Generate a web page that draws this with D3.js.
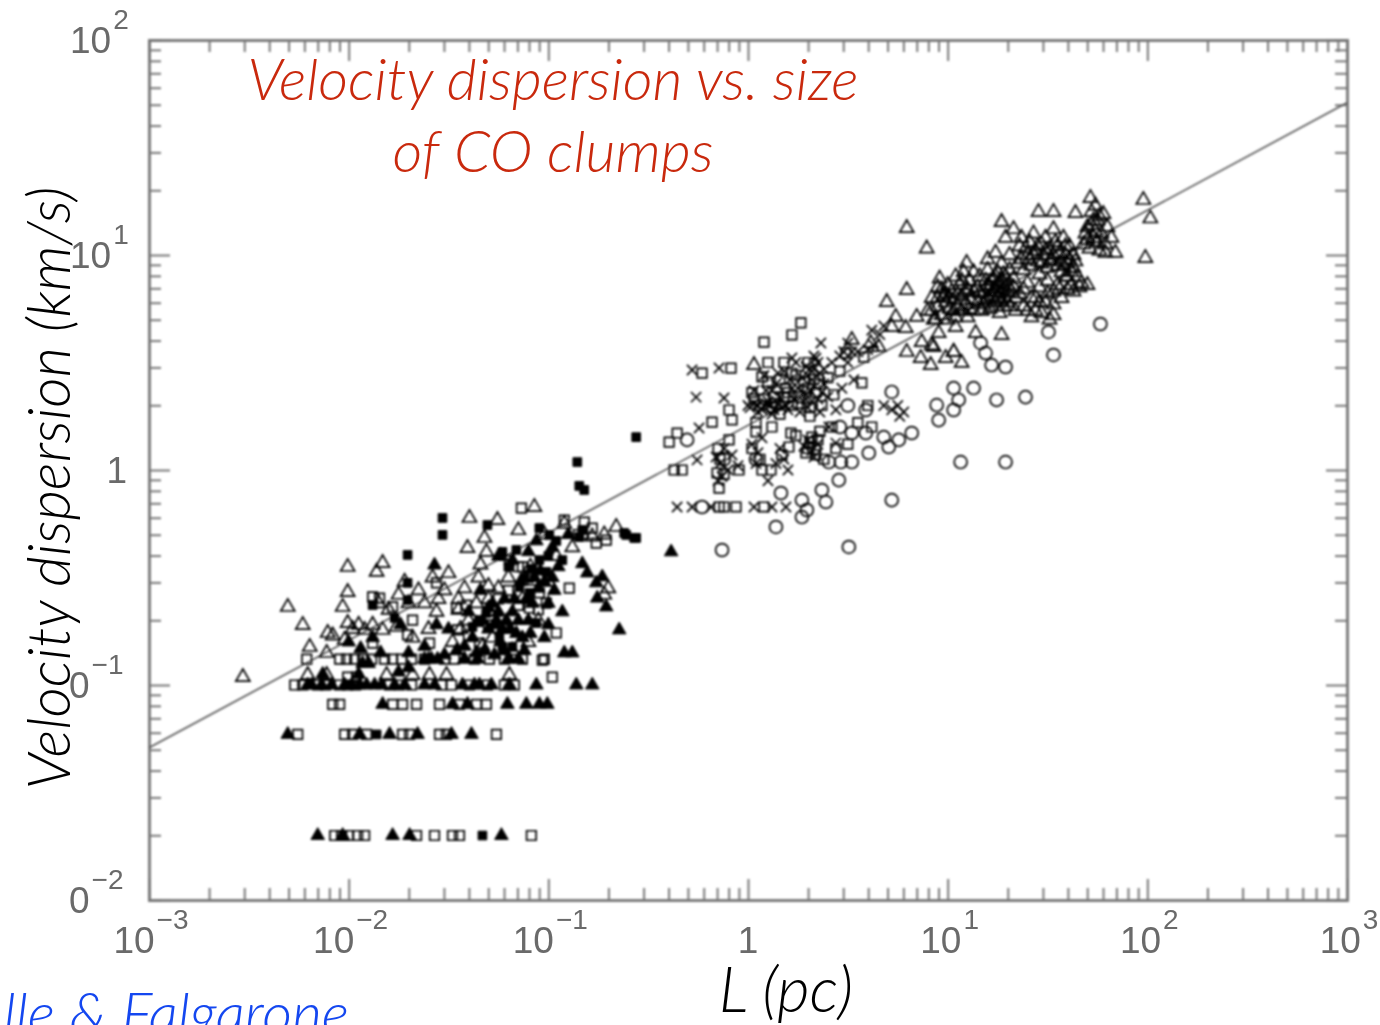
<!DOCTYPE html>
<html>
<head>
<meta charset="utf-8">
<script src="https://d3js.org/d3.v7.min.js"></script>
<style>
  html, body { margin: 0; padding: 0; background: #fff; overflow: hidden; }
  svg { display: block; }
  .tick-label { font-family: "Liberation Sans", sans-serif; fill: #6a6a6a; }
  .gill { font-family: Lato, "Open Sans", sans-serif; font-style: italic; font-weight: 300; }
</style>
</head>
<body>
<svg></svg>
<script>
// All points are [log10 L (pc), log10 velocity dispersion (km/s)]
var openTriangles = [
  [.795,1.125],[.895,1.03],[1.98,1.256],[2.015,1.17],[1.99,.986],[1.455,1.2],[1.53,1.2],[1.64,1.195],[1.715,1.265],[1.27,1.153],[1.095,.963],[.695,.781],[.795,.837],[.74,.712],[1.27,.628],
  [.90,.74],[.92,.80],[.93,.70],[.95,.85],[.95,.76],[.96,.89],[.97,.72],[.98,.81],[.99,.78],[1.0,.86],[1.0,.70],[1.01,.75],[1.02,.83],[1.03,.79],[1.04,.90],[1.04,.71],[1.05,.76],[1.06,.86],[1.07,.81],[1.07,.74],[1.08,.92],[1.09,.77],[1.1,.84],[1.1,.71],[1.11,.88],[1.12,.79],[1.13,.74],[1.13,.92],
  [1.15,.85],[1.15,.78],[1.16,.90],[1.17,.74],[1.18,.83],[1.19,.88],[1.19,.79],[1.20,.93],[1.21,.85],[1.21,.75],[1.22,.81],[1.23,.89],[1.23,.84],[1.24,.78],[1.25,.92],[1.25,.86],[1.26,.82],[1.26,.73],[1.27,.88],[1.27,.96],[1.28,.84],[1.29,.80],[1.29,.90],[1.30,.86],[1.31,.93],[1.31,.76],[1.32,.83],[1.33,.89],[1.34,.80],[1.34,.74],[1.20,.98],[1.24,1.01],
  [1.29,1.08],[1.31,1.0],[1.33,1.12],[1.35,.96],[1.36,1.04],[1.37,1.08],[1.38,.93],[1.40,1.0],[1.41,1.06],[1.42,.95],[1.43,1.1],[1.44,1.02],[1.45,.97],[1.46,.91],[1.47,1.05],[1.48,1.0],[1.49,1.08],[1.5,.94],[1.51,1.03],[1.52,.98],[1.53,1.12],[1.54,1.06],[1.55,.95],[1.56,1.01],[1.57,.92],[1.58,1.08],[1.59,1.0],[1.6,.96],[1.61,1.04],[1.62,.92],[1.63,1.0],[1.64,.97],
  [1.36,.82],[1.38,.76],[1.40,.87],[1.42,.71],[1.44,.80],[1.46,.85],[1.47,.73],[1.49,.78],[1.5,.88],[1.51,.70],[1.53,.83],[1.53,.77],[1.55,.86],[1.57,.80],[1.59,.90],[1.6,.84],[1.62,.86],[1.65,.90],[1.67,.87],[1.7,.86],[1.53,.72],
  [1.69,1.1],[1.7,1.13],[1.72,1.2],[1.73,1.08],[1.74,1.23],[1.75,1.16],[1.77,1.1],[1.78,1.19],[1.79,1.05],[1.8,1.13],[1.82,1.08],[1.76,1.02],[1.79,1.01],[1.84,1.01],[1.68,1.05],[1.71,1.03],
  [.795,.549],[.87,.595],[.93,.572],[.865,.521],[.915,.488],[.99,.521],[1.03,.549],[1.07,.498],[.955,.637],[1.04,.665],[1.14,.637],[.845,.712],[.79,.66],[.72,.665],[.655,.572],[.615,.59],[.52,.605],[.03,.488],[.92,.58],[1.03,.55],
  [1.2,.86],[1.22,.88],[1.24,.9],[1.26,.87],[1.28,.91],[1.3,.83],[1.22,.76],[1.24,.83],[1.18,.77],[1.16,.82],[1.27,.79],[1.3,.78],[1.25,.8],[1.28,.76],[1.33,.85],[1.2,.8],
  [1.41,.98],[1.43,1.0],[1.45,1.04],[1.47,.96],[1.49,1.02],[1.51,.97],[1.53,1.0],[1.55,1.04],[1.57,.97],[1.59,1.04],[1.61,.98],[1.63,.94],[1.39,1.03],[1.37,.98],[1.58,.95],[1.6,.9],
  [.95,.8],[.97,.84],[.99,.82],[1.01,.8],[1.03,.74],[1.05,.82],[1.07,.88],[1.09,.83],[.92,.74],[.94,.7],[1.11,.75],[1.13,.83],
  [1.72,1.14],[1.74,1.11],[1.76,1.18],[1.73,1.16],[1.7,1.07],[1.75,1.06],
  [1.38,.84],[1.42,.8],[1.46,.78],[1.5,.82],[1.56,.84],[1.63,.83],[1.66,.85],[1.4,.74],[1.44,.74],
  [-2.53,-.963],[-2.305,-.637],[-2.23,-.721],[-2.03,-.637],[-2.005,-.451],[-2.005,-.568],[-1.86,-.474],[-1.83,-.433],[-1.395,-.223],[-1.255,-.233],[-1.32,-.316],[-1.405,-.363],[-1.31,-.381],[-1.07,-.172],[-.66,-.265],
  [-2.105,-.758],[-2.005,-.712],[-1.92,-.744],[-1.83,-.744],[-2.195,-.823],[-2.11,-.851],[-2.205,-.954],[-2.11,-.954],[-1.81,-.954],[-1.68,-.954],[-1.595,-.954],[-1.51,-.954],[-1.195,-.954],
  [-1.75,-.58],[-1.72,-.52],[-1.65,-.56],[-1.62,-.62],[-1.58,-.50],[-1.56,-.66],[-1.52,-.56],[-1.5,-.48],[-1.45,-.6],[-1.42,-.55],[-1.4,-.7],[-1.36,-.62],[-1.34,-.44],[-1.3,-.54],[-1.27,-.66],[-1.24,-.4],[-1.22,-.74],[-1.2,-.5],[-1.15,-.28],[-1.13,-.6],[-1.09,-.45],[-1.05,-.7],[-1.02,-.3],[-1.0,-.52],[-.96,-.4],[-.92,-.25],[-.88,-.36],[-.83,-.3],[-.78,-.31],[-.72,-.3],[-.7,-.55],[-.72,-.58],[-1.68,-.78],[-1.6,-.74],[-1.48,-.8],[-1.44,-.74],[-1.33,-.82],[-1.28,-.78],[-1.18,-.84],[-1.1,-.8],
  [-1.25,-.55],[-1.3,-.6],[-1.35,-.5],[-1.45,-.65],[-1.55,-.6],[-1.7,-.62],[-1.8,-.65],[-1.85,-.62],[-1.95,-.72],[-2.08,-.77],[-2.02,-.79],[-1.98,-.74],[-1.88,-.72],[-1.76,-.73]
];

var filledTriangles = [
  [-2.155,-1.7],[-2.03,-1.7],[-1.78,-1.7],[-1.695,-1.7],[-1.235,-1.7],
  [-2.305,-1.23],[-1.945,-1.23],[-1.795,-1.23],[-1.655,-1.23],[-1.485,-1.23],[-1.385,-1.23],
  [-1.83,-1.09],[-1.48,-1.09],[-1.405,-1.09],[-1.205,-1.09],[-1.11,-1.09],[-1.045,-1.09],[-1.005,-1.09],
  [-2.205,-1.0],[-2.185,-1.0],[-2.135,-1.0],[-2.085,-1.0],[-2.02,-1.0],[-1.985,-1.0],[-1.945,-1.0],[-1.91,-1.0],[-1.87,-1.0],[-1.835,-1.0],[-1.77,-1.0],[-1.72,-1.0],[-1.62,-1.0],[-1.57,-1.0],[-1.43,-1.0],[-1.37,-1.0],[-1.345,-1.0],[-1.285,-1.0],[-1.195,-1.0],[-1.06,-1.0],[-.86,-1.0],[-.78,-1.0],
  [-1.62,-.88],[-1.585,-.88],[-1.555,-.88],[-1.42,-.88],[-1.355,-.88],[-1.195,-.88],
  [-2.0,-.8],[-1.94,-.83],[-1.88,-.78],[-1.84,-.85],[-1.74,-.72],[-1.7,-.85],[-1.62,-.82],[-1.6,-.88],[-1.56,-.72],[-1.52,-.86],[-1.5,-.74],[-1.46,-.84],[-1.42,-.88],[-1.4,-.66],[-1.38,-.78],[-1.36,-.71],[-1.34,-.56],[-1.32,-.84],[-1.3,-.74],[-1.28,-.62],[-1.26,-.7],[-1.24,-.8],[-1.22,-.6],[-1.2,-.88],[-1.18,-.66],[-1.16,-.76],[-1.14,-.52],[-1.12,-.84],[-1.1,-.7],[-1.08,-.62],[-1.05,-.55],[-1.02,-.78],[-1,-.72],[-.98,-.5],[-.95,-.45],[-.93,-.66],[-1.57,-.442],
  [-1.33,-.7],[-1.3,-.64],[-1.27,-.72],[-1.25,-.66],[-1.23,-.74],[-1.21,-.7],[-1.19,-.74],[-1.17,-.6],[-1.15,-.7],[-1.13,-.78],[-1.11,-.6],[-1.09,-.76],[-1.07,-.5],[-1.04,-.47],[-1.02,-.52],[-1.0,-.62],[-.97,-.56],[-1.27,-.86],[-1.22,-.84],[-1.15,-.88],[-1.9,-.9],[-1.93,-.9],[-1.7,-.92],[-1.25,-.4],[-1.18,-.42],[-1.1,-.38],[-1.06,-.33],[-.98,-.36],[-.9,-.3],[-1.36,-.85],[-1.42,-.82],[-1.95,-.95],[-2.13,-.95],[-1.75,-.94],
  [-.385,-.381],[-.645,-.744],[-.83,-.436],[-.805,-.479],[-.73,-.497],[-.76,-.525],[-.755,-.596],[-.71,-.637],[-.92,-.851],[-.88,-.851]
];

var openSquares = [
  [-2.07,-1.7],[-2.035,-1.7],[-2.0,-1.7],[-1.955,-1.7],[-1.92,-1.7],[-1.66,-1.7],[-1.57,-1.7],[-1.48,-1.7],[-1.445,-1.7],[-1.085,-1.7],
  [-2.255,-1.23],[-2.02,-1.23],[-1.98,-1.23],[-1.91,-1.23],[-1.73,-1.23],[-1.695,-1.23],[-1.545,-1.23],[-1.51,-1.23],[-1.26,-1.23],
  [-2.08,-1.09],[-2.045,-1.09],[-1.78,-1.09],[-1.73,-1.09],[-1.66,-1.09],[-1.545,-1.09],[-1.445,-1.09],[-1.36,-1.09],[-1.31,-1.09],
  [-2.27,-1.0],[-2.23,-1.0],[-2.155,-1.0],[-2.115,-1.0],[-2.045,-1.0],[-2.005,-1.0],[-1.965,-1.0],[-1.795,-1.0],[-1.745,-1.0],[-1.685,-1.0],[-1.535,-1.0],[-1.485,-1.0],[-1.395,-1.0],[-1.305,-1.0],[-1.22,-1.0],[-1.17,-1.0],
  [-2.21,-.88],[-2.045,-.88],[-2.01,-.88],[-1.97,-.88],[-1.93,-.88],[-1.885,-.88],[-1.82,-.88],[-1.78,-.88],[-1.735,-.88],[-1.685,-.88],[-1.62,-.88],[-1.52,-.88],[-1.47,-.88],[-1.37,-.88],[-1.295,-.88],[-1.22,-.88],[-1.13,-.88],[-1.02,-.88],
  [-1.88,-.59],[-1.845,-.596],[-1.78,-.637],[-1.68,-.698],[-1.705,-.767],[-1.56,-.525],[-1.41,-.628],[-1.46,-.642],[-1.455,-.744],[-1.135,-.177],[-.92,-.233],[-.82,-.242],[-.895,-.549],[-.71,-.326],[-.76,-.34],[-1.195,-.419],[-1.13,-.451],[-1.08,-.512],[-1.045,-.572],[-1.01,-.619],[-1.095,-.642],[-.96,-.758],[-.98,-.963],[-1.03,-.884],[-1.595,-.805],[-1.345,-.805],[-1.88,-.805],[-2.005,-.963],[-1.96,-.963],
  [-1.25,-.6],[-1.2,-.56],[-1.15,-.63],[-1.1,-.5],[-1.05,-.65],[-1.3,-.72],[-1.4,-.77],[-1.15,-.45],[-.85,-.3],[-.78,-.27],
  [.265,.684],[.22,.628],[.08,.595],[-.23,.451],[-.085,.474],[-.18,.223],[-.355,.172],[-.395,.13],[-.37,0],[-.33,0],[.07,.433],[-.095,.279],[-.08,.233],[-.145,-.084],[-.155,-.014],[.07,0],[.115,0],[-.095,.14],[.04,.177],[.215,.172],[.32,.153],[.57,.405],[.49,.544],[.58,.525],[.205,.107],[-.045,0],
  [-.145,-.172],[-.12,-.172],[-.06,-.172],[.08,-.172],
  [.02,.36],[.06,.30],[.1,.41],[.13,.34],[.16,.26],[.19,.38],[.22,.45],[.25,.31],[.28,.41],[.31,.25],[.34,.36],[.37,.3],[.4,.43],[.43,.35],[.46,.46],[.1,.5],[.18,.5],[.3,.5],[.04,.22],[.12,.2],[.24,.16],[.36,.18],[.42,.2],[.3,.1],[.34,.07],[.38,.05],[.44,.1],[.5,.12],[.55,.22],[.6,.3],[.62,.2],
  [.03,.33],[.08,.33],[.14,.31],[.18,.34],[.22,.3],[.26,.34],[.3,.38],[.33,.42],[.36,.4],[.31,.29],[.2,.36],[.16,.42],[.24,.44],[.12,.29],[.35,.14],[.31,.13],[.29,.08],[-.14,.05],[-.12,-.02],[-.15,.1],[.02,.1],[.06,.05],[.17,.07]
];

var filledSquares = [
  [-1.33,-1.7],[-1.86,-1.23],
  [-1.53,-.223],[-1.53,-.302],[-1.705,-.395],[-1.305,-.256],[-.855,.037],[-.845,-.074],[-.82,-.093],[-.56,.153],[-.62,-.293],[-.56,-.316],
  [-1.705,-.525],[-1.705,-.605],[-1.77,-.688],[-1.88,-.628],[-1.23,-.381],[-1.16,-.372],[-1.045,-.27],[-.995,-.302],[-.93,-.419],[-1.045,-.419],[-1.01,-.474],[-.845,-.312],[-.83,-.279],[-1.345,-.698],[-1.38,-.73],[-1.245,-.777],[-1.31,-.665],[-1.18,-.823],[-1.23,-.823],[-1.145,-.544],[-1.095,-.572],[-1.06,-.712],[-.61,-.302],[-.57,-.316],
  [-1.0,-.4],[-.96,-.33],[-1.08,-.46],[-1.12,-.5],[-1.2,-.45]
];

var crosses = [
  [-.355,-.172],[-.28,-.172],[-.185,-.172],[.03,-.172],[.12,-.172],[.19,-.172],
  [-.26,.339],[-.12,.335],[-.28,.465],[-.145,.474],[-.245,.195],[-.255,.047],[.44,.125],[.365,.591],[.22,.521],[.405,.2],
  [.0,.3],[.03,.37],[.05,.27],[.08,.44],[.1,.32],[.12,.26],[.14,.4],[.16,.34],[.18,.46],[.2,.28],[.22,.38],[.24,.5],[.26,.27],[.28,.36],[.3,.44],[.32,.32],[.34,.52],[.36,.27],[.38,.4],[.4,.34],[.42,.5],[.44,.28],[.47,.38],[.5,.5],[.53,.42],[.55,.55],[.6,.56],[.63,.58],[.68,.3],[.72,.28],[.75,.3],[.78,.27],[.76,.25],
  [-.16,.06],[-.14,.03],[-.13,-.03],[-.12,.1],[-.1,.0],[-.15,-.05],[-.08,.07],[-.05,.02],[.02,.12],[.05,.08],[.07,.15],[.04,.03],[.16,.1],[.18,.05],[.14,.03],[.2,.0],[.3,.14],[.32,.09],[.35,.12],[.33,.06],[.28,.11],[.1,-.05],
  [.01,.29],[.03,.31],[.05,.3],[.07,.28],[.09,.31],[.11,.3],[.13,.28],[.15,.31],[.17,.29],[.19,.3],[.29,.33],[.3,.29],[.31,.37],[.32,.42],[.33,.47],[.35,.5],[.33,.53],[.31,.47],[.36,.45],[.29,.48],[.35,.33],[.37,.36],[.38,.47],[.27,.43],[.25,.38],[.23,.33],[.21,.42],[.15,.45],[.12,.37],[.09,.37],[.48,.55],[.52,.55],[.5,.59],[.46,.53],[.66,.63],[.62,.65],[.68,.67]
];

var circles = [
  [1.765,.679],[1.505,.642],[1.53,.535],[1.29,.479],[1.22,.488],[1.19,.544],[1.165,.591],[1.13,.381],[1.245,.326],[1.39,.339],[1.03,.381],[1.055,.326],[1.03,.279],[.945,.302],[.955,.232],[.82,.172],[.755,.14],[.68,.153],[1.065,.037],[1.29,.037],[.59,.279],[.72,.363],[.59,.172],[.52,.172],[.705,.107],[.605,.079],[.52,.037],[.465,.037],[.405,.037],[.455,-.047],[.37,-.093],[.39,-.149],[.165,-.107],[.27,-.14],[.295,-.186],[.27,-.219],[.14,-.265],[-.13,-.372],[.505,-.358],[.72,-.14],[-.305,.14],[-.23,-.172],[-.12,.05],[.33,.1],[.46,.2],[.5,.3],[.04,.05]
];

// Fit line, as [L, sigma] end points
var fitL = [1e-3, 1e3];
var fitV = [0.051, 51];

var xMajor = [1e-3, 1e-2, 1e-1, 1, 10, 100, 1000];
var yMajor = [1e-2, 1e-1, 1, 10, 100];
var xLabels = [["10", "\u22123"], ["10", "\u22122"], ["10", "\u22121"], ["1", ""], ["10", "1"], ["10", "2"], ["10", "3"]];
var yLabels = [["0", "\u22122"], ["0", "\u22121"], ["1", ""], ["10", "1"], ["10", "2"]];

var svg = d3.select("svg").attr("width", 1380).attr("height", 1025);

var defs = svg.append("defs");
defs.append("filter").attr("id", "blur").attr("x", "-5%").attr("y", "-5%").attr("width", "110%").attr("height", "110%")
    .append("feGaussianBlur").attr("stdDeviation", 1.1);
defs.append("filter").attr("id", "blurText")
    .append("feGaussianBlur").attr("stdDeviation", 0.7);

var margin = {top: 40, right: 33, bottom: 125, left: 149};
var width = 1380 - margin.left - margin.right,
    height = 1025 - margin.top - margin.bottom;

var x = d3.scaleLog().domain([1e-3, 1e3]).range([0, width]);
var y = d3.scaleLog().domain([1e-2, 1e2]).range([height, 0]);

var g = svg.append("g")
    .attr("transform", `translate(${margin.left},${margin.top})`)
    .attr("filter", "url(#blur)");

// Minor ticks: 2..9 in each decade
function minors(majors) {
    var out = [];
    majors.slice(0, -1).forEach(m => d3.range(2, 10).forEach(k => out.push(m * k)));
    return out;
}

// Negative tick size makes all four sides point inward
function drawAxis(axisFn, scale, majors, translate) {
    var major = g.append("g").attr("transform", translate)
        .call(axisFn(scale).tickValues(majors).tickSize(-21).tickFormat(""));
    var minor = g.append("g").attr("transform", translate)
        .call(axisFn(scale).tickValues(minors(majors)).tickSize(-12).tickFormat(""));
    [major, minor].forEach(a => {
        a.selectAll("path").attr("stroke", "#777").attr("stroke-width", 2.4);
        a.selectAll("line").attr("stroke", "#777").attr("stroke-width", 2);
    });
}

drawAxis(d3.axisBottom, x, xMajor, `translate(0,${height})`);
drawAxis(d3.axisTop, x, xMajor, "translate(0,0)");
drawAxis(d3.axisLeft, y, yMajor, "translate(0,0)");
drawAxis(d3.axisRight, y, yMajor, `translate(${width},0)`);

// Fit line
g.append("path")
    .datum(fitL.map((l, i) => [l, fitV[i]]))
    .attr("fill", "none")
    .attr("stroke", "#555")
    .attr("stroke-width", 1.7)
    .attr("d", d3.line().x(d => x(d[0])).y(d => y(d[1])));

function drawPoints(points, type, size, filled) {
    var sym = d3.symbol().type(type).size(size);
    g.append("g").selectAll("path")
        .data(points)
        .enter()
        .append("path")
        .attr("d", sym)
        .attr("transform", d => `translate(${x(Math.pow(10, d[0]))},${y(Math.pow(10, d[1]))})`)
        .attr("fill", filled ? "#000" : "none")
        .attr("stroke", "#000")
        .attr("stroke-width", filled ? 1 : 1.7);
}

drawPoints(openTriangles, d3.symbolTriangle, 85, false);
drawPoints(openSquares, d3.symbolSquare, 90, false);
drawPoints(circles, d3.symbolCircle, 130, false);
drawPoints(crosses, d3.symbolTimes, 70, false);
drawPoints(filledTriangles, d3.symbolTriangle, 80, true);
drawPoints(filledSquares, d3.symbolSquare, 75, true);

// Tick labels with raised exponents
var labels = svg.append("g").attr("filter", "url(#blurText)");

function tickLabel(px, py, pair, anchor) {
    var t = labels.append("text").attr("class", "tick-label")
        .attr("x", px).attr("y", py)
        .attr("text-anchor", anchor)
        .style("font-size", "37px")
        .text(pair[0]);
    if (pair[1]) {
        t.append("tspan").attr("dx", 2).attr("dy", -24).style("font-size", "28px").text(pair[1]);
    }
}

xLabels.forEach((p, i) => tickLabel(margin.left + x(xMajor[i]) + (i === 3 ? 0 : 2), 953, p, "middle"));
yLabels.forEach((p, i) => {
    var py = margin.top + y(yMajor[i]) + 13;
    tickLabel(p[1] === "" ? 127 : (p[0] === "0" ? 69 : 70), py, p, p[1] === "" ? "end" : "start");
});

// Title and axis titles
svg.append("text").attr("class", "gill")
    .attr("x", 553).attr("y", 100).attr("text-anchor", "middle")
    .style("font-size", "58px").attr("fill", "#c9290d")
    .text("Velocity dispersion vs. size");
svg.append("text").attr("class", "gill")
    .attr("x", 553).attr("y", 172).attr("text-anchor", "middle")
    .style("font-size", "58px").attr("fill", "#c9290d")
    .text("of CO clumps");
svg.append("text").attr("class", "gill")
    .attr("transform", "translate(70,488) rotate(-90)").attr("text-anchor", "middle")
    .style("font-size", "59px").attr("fill", "#000")
    .text("Velocity dispersion (km/s)");
svg.append("text").attr("class", "gill")
    .attr("x", 786).attr("y", 1012).attr("text-anchor", "middle")
    .style("font-size", "63px").attr("fill", "#000")
    .text("L (pc)");
svg.append("text").attr("class", "gill")
    .attr("x", 349).attr("y", 1034).attr("text-anchor", "end")
    .style("font-size", "58px").attr("fill", "#1447f0")
    .text("lle & Falgarone");
</script>
</body>
</html>
